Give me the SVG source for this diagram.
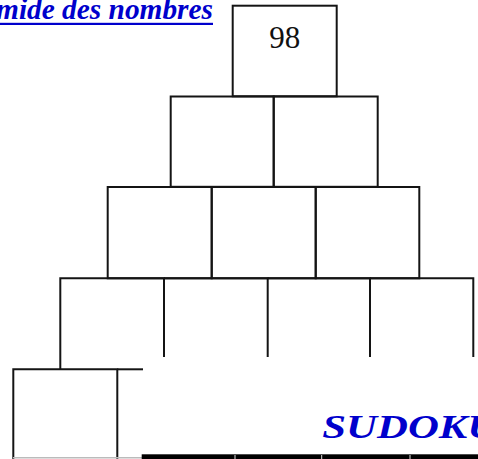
<svg xmlns="http://www.w3.org/2000/svg" width="478" height="459" viewBox="0 0 478 459">
<style>
.b{fill:none;stroke:#141414;stroke-width:2}
.t{font-family:"Liberation Serif","Times New Roman",serif;font-weight:bold;font-style:italic;fill:#0000cc}
.n{font-family:"Liberation Serif","Times New Roman",serif;font-size:31px;fill:#111}
</style>
<rect width="478" height="459" fill="#fff"/>
<g id="title">
<text class="t" x="-61" y="18.7" font-size="28.5" textLength="274" lengthAdjust="spacingAndGlyphs">Pyramide des nombres</text>
<rect x="0" y="22.8" width="213" height="2.2" fill="#0000cc"/>
</g>
<g id="row1">
<g id="c1"><rect class="b" x="232.7" y="5.7" width="104" height="90.6"/><text class="n" x="284.7" y="47.5" text-anchor="middle">98</text></g>
</g>
<g id="row2">
<g id="c2a"><rect class="b" x="170.7" y="96.5" width="103" height="90.3"/></g>
<g id="c2b"><rect class="b" x="273.7" y="96.5" width="104" height="90.3"/></g>
</g>
<g id="row3">
<g id="c3a"><rect class="b" x="107.7" y="187" width="104" height="91.3"/></g>
<g id="c3b"><rect class="b" x="211.7" y="187" width="104" height="91.3"/></g>
<g id="c3c"><rect class="b" x="315.7" y="187" width="103.6" height="91.3"/></g>
</g>
<g id="row4">
<g id="c4a"><path class="b" d="M60.3 369.5V278.3H164V357"/></g>
<g id="c4b"><path class="b" d="M164 278.3H267.7V357"/></g>
<g id="c4c"><path class="b" d="M267.7 278.3H370V357"/></g>
<g id="c4d"><path class="b" d="M370 278.3H473.3V357"/></g>
</g>
<g id="row5">
<g id="c5a"><path class="b" d="M13.3 459V369.3H117.3V459"/><line x1="13" y1="457.8" x2="142" y2="457.8" stroke="#bbb" stroke-width="1.5"/></g>
<g id="c5b"><path class="b" d="M117.3 369.3H143"/></g>
</g>
<g id="sudoku">
<text class="t" x="322.3" y="438" font-size="33" textLength="176" lengthAdjust="spacingAndGlyphs">SUDOKU</text>
<rect x="141.7" y="454.3" width="336.3" height="4.7" fill="#000"/>
<line x1="235" y1="455" x2="235" y2="459" stroke="#ddd" stroke-width="1"/>
<line x1="321.7" y1="455" x2="321.7" y2="459" stroke="#ddd" stroke-width="1"/>
<line x1="410" y1="455" x2="410" y2="459" stroke="#ddd" stroke-width="1"/>
</g>
</svg>
